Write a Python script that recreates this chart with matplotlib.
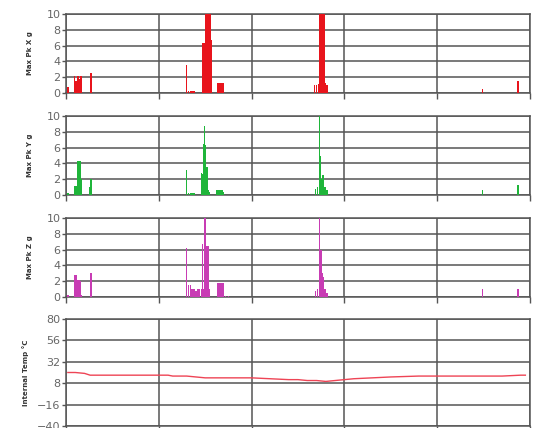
import matplotlib
matplotlib.use("Agg")
import matplotlib.pyplot as plt
import numpy as np

# event positions (time index 0..500) and peak values
red_x = [2, 9, 11, 13, 15, 16, 27, 130, 132, 134, 136, 138, 147, 148, 149, 151, 152, 153, 154, 155, 156,
         163, 165, 167, 169, 268, 270, 272, 273, 274, 275, 276, 277, 278, 279, 280, 281, 449, 487]
red_y = [0.8, 2.2, 1.5, 2.2, 1.8, 2.2, 2.5, 3.5, 0.3, 0.3, 0.3, 0.2, 6.3, 6.3, 6.3, 10, 10, 10, 10, 10, 6.7,
         1.3, 1.3, 1.3, 1.3, 1.0, 1.0, 1.2, 10, 10, 10, 10, 10, 10, 1.3, 1.0, 1.0, 0.5, 1.5]

green_x = [2, 9, 10, 11, 13, 14, 15, 16, 26, 27, 130, 132, 134, 136, 138, 146, 147, 148, 149, 150, 151,
           152, 153, 154, 162, 164, 166, 168, 169, 269, 271, 273, 274, 275, 276, 277, 278, 279, 281, 449, 487]
green_y = [0.3, 1.2, 1.0, 1.2, 4.3, 4.0, 4.3, 2.0, 1.0, 2.0, 3.2, 0.3, 0.3, 0.3, 0.2, 2.8, 2.6, 6.5, 8.7,
           6.3, 3.5, 3.5, 0.6, 0.4, 0.6, 0.6, 0.6, 0.6, 0.4, 0.8, 1.0, 10, 5.0, 2.0, 1.5, 2.5, 1.0, 1.0, 0.6,
           0.6, 1.3]

magenta_x = [2, 9, 10, 11, 12, 13, 14, 15, 16, 27, 130, 132, 134, 136, 138, 140, 142, 144, 146, 147, 148,
             149, 150, 151, 152, 153, 154, 163, 165, 167, 169, 172, 175, 269, 271, 273, 274, 275, 276, 277,
             278, 279, 281, 449, 487]
magenta_y = [0.2, 2.8, 2.5, 2.8, 2.2, 1.5, 2.2, 2.0, 0.3, 3.0, 6.2, 1.5, 1.5, 1.0, 1.0, 0.8, 1.0, 1.0, 1.0,
             6.7, 1.0, 1.0, 10, 6.5, 6.5, 6.5, 1.0, 1.8, 1.8, 1.8, 1.8, 0.1, 0.1, 0.8, 1.0, 10, 6.0, 6.0,
             3.0, 2.5, 1.0, 1.0, 0.5, 1.0, 1.0]

temp_x = [2, 10, 20, 26, 35, 60, 100, 110, 115, 130, 140, 150, 165, 175, 200, 220, 240, 250, 260, 270,
          280, 290, 300, 310, 330, 350, 380, 420, 450, 470, 490, 495]
temp_y = [20, 20, 19, 17, 17, 17, 17, 17, 16, 16, 15, 14, 14, 14, 14, 13, 12, 12, 11, 11, 10, 11, 12,
          13, 14, 15, 16, 16, 16, 16, 17, 17]

bar_labels = ["Max Pk X g", "Max Pk Y g", "Max Pk Z g"]
temp_label = "Internal Temp °C"
bar_colors = ["#e8141c", "#1fb53a", "#c83cb4"]

fig = plt.figure(figsize=(5.37, 4.28), dpi=100)
W, H = 537.0, 428.0
left, right = 66, 530
panels = [(14, 93), (116, 195), (218, 297), (319, 426)]

grid_color = "#555555"
axes = []
for top, bot in panels:
    ax = fig.add_axes([left / W, 1 - bot / H, (right - left) / W, (bot - top) / H])
    axes.append(ax)

series = [(red_x, red_y), (green_x, green_y), (magenta_x, magenta_y)]
for ax, (xs, ys), col, lab in zip(axes[:3], series, bar_colors, bar_labels):
    ax.bar(xs, ys, width=1.6, color=col, linewidth=0, zorder=3)
    ax.set_ylim(0, 10)
    ax.set_yticks(np.arange(0, 11, 2))
    ax.set_ylabel(lab, fontsize=5, fontweight="bold", color="#333333", labelpad=10)

ax = axes[3]
ax.plot(temp_x, temp_y, color="#ee4455", linewidth=1.0, zorder=3)
ax.set_ylim(-40, 80)
ax.set_yticks([80, 56, 32, 8, -16, -40])
ax.set_ylabel(temp_label, fontsize=5, fontweight="bold", color="#333333", labelpad=6)

for ax in axes:
    ax.set_xlim(0, 500)
    ax.set_xticks(np.arange(0, 501, 100))
    ax.set_xticklabels([])
    ax.grid(True, color=grid_color, linewidth=1.1, zorder=0)
    ax.set_axisbelow(True)
    ax.tick_params(axis="x", length=4, width=1, color=grid_color, direction="out")
    ax.tick_params(axis="y", length=3, width=1, color=grid_color, labelsize=8,
                   labelcolor="#666666", pad=1)
    for sp in ax.spines.values():
        sp.set_color(grid_color)
        sp.set_linewidth(1.1)

fig.savefig("out.png", dpi=100)
